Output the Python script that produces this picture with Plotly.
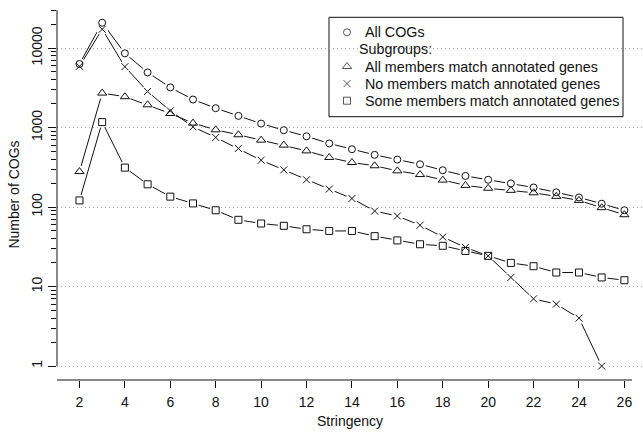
import math
import plotly.graph_objects as go

# ---------------- data ----------------
stringency = list(range(2, 27))
all_cogs = [6290, 20800, 8570, 4930, 3190, 2250, 1750, 1400, 1120, 925, 775, 630,
            533, 453, 395, 345, 290, 246, 220, 198, 176, 153, 132, 110, 91]
all_members = [279, 2710, 2440, 1930, 1500, 1135, 935, 810, 693, 600, 508, 420,
               363, 330, 285, 256, 218, 187, 172, 162, 151, 136, 121, 98, 80]
no_members_x = list(range(2, 26))
no_members = [5880, 17200, 5820, 2840, 1620, 1020, 750, 545, 388, 293, 220, 168,
              128, 89, 77, 59, 42, 31, 24.3, 13, 7, 6, 4, 1]
some_members = [121, 1170, 313, 193, 135, 111, 91, 69, 62, 58, 52.5, 50,
                50, 43, 38, 34, 32.5, 28, 24.3, 19.8, 18, 15, 15, 13, 12]

x_ticks = list(range(2, 27, 2))
y_major = [1, 10, 100, 1000, 10000]
y_major_text = ["1", "10", "100", "1000", "10000"]
y_minor = [m * 10 ** e for e in range(0, 5) for m in range(2, 10) if m * 10 ** e <= 30000]

series_names = ["All COGs", "All members match annotated genes",
                "No members match annotated genes", "Some members match annotated genes"]
series_x = [stringency, stringency, no_members_x, stringency]
series_y = [all_cogs, all_members, no_members, some_members]
series_symbols = ["circle-open", "triangle-up-open", "x-thin-open", "square-open"]
series_sizes = [7, 8, 7, 7]
subgroup_heading = "Subgroups:"

FONT = "Liberation Sans, Arial, Helvetica, sans-serif"
INK = "#111111"

# ---------------- layout geometry (pixels of the 643x432 page) ----------------
W, H = 643, 432
PL, PR, PT, PB = 57, 643, 9, 380          # plot region
Y_LO, Y_HI = -0.176, 4.4906               # log10 range of the value axis
X_LO, X_HI = 1.01, 26.82


def px2paper_x(px):
    return (px - PL) / (PR - PL)


def px2paper_y(py):
    return (PB - py) / (PB - PT)


def val2paper_y(v):
    return (math.log10(v) - Y_LO) / (Y_HI - Y_LO)


fig = go.Figure()

# connecting lines
for xs, ys in zip(series_x, series_y):
    fig.add_trace(go.Scatter(x=xs, y=ys, mode="lines", line=dict(color=INK, width=1),
                             showlegend=False, hoverinfo="skip"))
# white masks giving the gaps of the R "type b" style round each point
for xs, ys in zip(series_x, series_y):
    fig.add_trace(go.Scatter(x=xs, y=ys, mode="markers",
                             marker=dict(symbol="circle", size=12, color="white", line=dict(width=0)),
                             showlegend=False, hoverinfo="skip"))
# point symbols
for name, xs, ys, sym, sz in zip(series_names, series_x, series_y, series_symbols, series_sizes):
    fig.add_trace(go.Scatter(x=xs, y=ys, mode="markers", name=name, showlegend=False,
                             marker=dict(symbol=sym, size=sz, color=INK,
                                         line=dict(color=INK, width=1))))

# ---------------- legend (drawn in a pixel-unit overlay) ----------------
LEG_BOX = (329, 623, 17.3, 116.7)
LEG_ROWS = [32.3 + 17.1 * i for i in range(5)]
LEG_SYM_X = 347
LEG_TEXT_X = 363
LEG_HEAD_X = 357
key_rows = [LEG_ROWS[0], LEG_ROWS[2], LEG_ROWS[3], LEG_ROWS[4]]
fig.add_trace(go.Scatter(
    x=[LEG_SYM_X] * len(key_rows), y=key_rows, mode="markers", xaxis="x2", yaxis="y2",
    showlegend=False, hoverinfo="skip",
    marker=dict(symbol=series_symbols, size=series_sizes, color=INK, line=dict(color=INK, width=1)),
))

annotations = []
for name, row in zip(series_names, key_rows):
    annotations.append(dict(x=LEG_TEXT_X, y=row, xref="x2", yref="y2", text=name, showarrow=False,
                            xanchor="left", yanchor="middle", font=dict(size=14.3, color=INK)))
annotations.append(dict(x=LEG_HEAD_X, y=LEG_ROWS[1], xref="x2", yref="y2", text=subgroup_heading,
                        showarrow=False, xanchor="left", yanchor="middle",
                        font=dict(size=14.3, color=INK)))

fig.update_layout(
    width=W, height=H,
    margin=dict(l=PL, r=W - PR, t=PT, b=H - PB),
    paper_bgcolor="white", plot_bgcolor="white",
    font=dict(family=FONT, size=14, color=INK),
    showlegend=False,
    hovermode=False,
    xaxis=dict(
        range=[X_LO, X_HI], tickmode="array", tickvals=x_ticks,
        ticks="outside", ticklen=7, tickwidth=1, tickcolor=INK,
        showline=False, showgrid=False, zeroline=False,
        tickfont=dict(size=14), ticklabelstandoff=2,
        title=dict(text="Stringency", font=dict(size=14), standoff=7),
    ),
    yaxis=dict(
        type="log", range=[Y_LO, Y_HI], tickmode="array",
        tickvals=y_major, ticktext=y_major_text, tickangle=-90,
        ticks="outside", ticklen=8, tickwidth=1, tickcolor=INK,
        showline=False, zeroline=False,
        showgrid=True, gridcolor="#a8a8a8", griddash="1px,3px", gridwidth=1,
        tickfont=dict(size=14),
        minor=dict(tickmode="array", tickvals=y_minor, ticks="outside", ticklen=5,
                   tickwidth=1, tickcolor=INK, showgrid=False),
        title=dict(text="Number of COGs", font=dict(size=14), standoff=6),
    ),
    xaxis2=dict(overlaying="x", anchor="y2", range=[PL, PR], visible=False, fixedrange=True),
    yaxis2=dict(overlaying="y", anchor="x2", range=[PB, PT], visible=False, fixedrange=True),
    annotations=annotations,
    shapes=[
        # value-axis line from 1 to 30000
        dict(type="line", xref="paper", yref="paper", x0=0, x1=0,
             y0=val2paper_y(1), y1=val2paper_y(30000), line=dict(color=INK, width=1)),
        # stringency-axis line
        dict(type="line", xref="paper", yref="paper", x0=0, x1=px2paper_x(632),
             y0=0, y1=0, line=dict(color=INK, width=1)),
        # legend box
        dict(type="rect", xref="paper", yref="paper", layer="between",
             x0=px2paper_x(LEG_BOX[0]), x1=px2paper_x(LEG_BOX[1]),
             y0=px2paper_y(LEG_BOX[3]), y1=px2paper_y(LEG_BOX[2]),
             fillcolor="white", line=dict(color=INK, width=1)),
    ],
)

fig.write_html("out.html", config={"displayModeBar": False, "staticPlot": True},
               post_script="document.body.style.margin='0px';")
